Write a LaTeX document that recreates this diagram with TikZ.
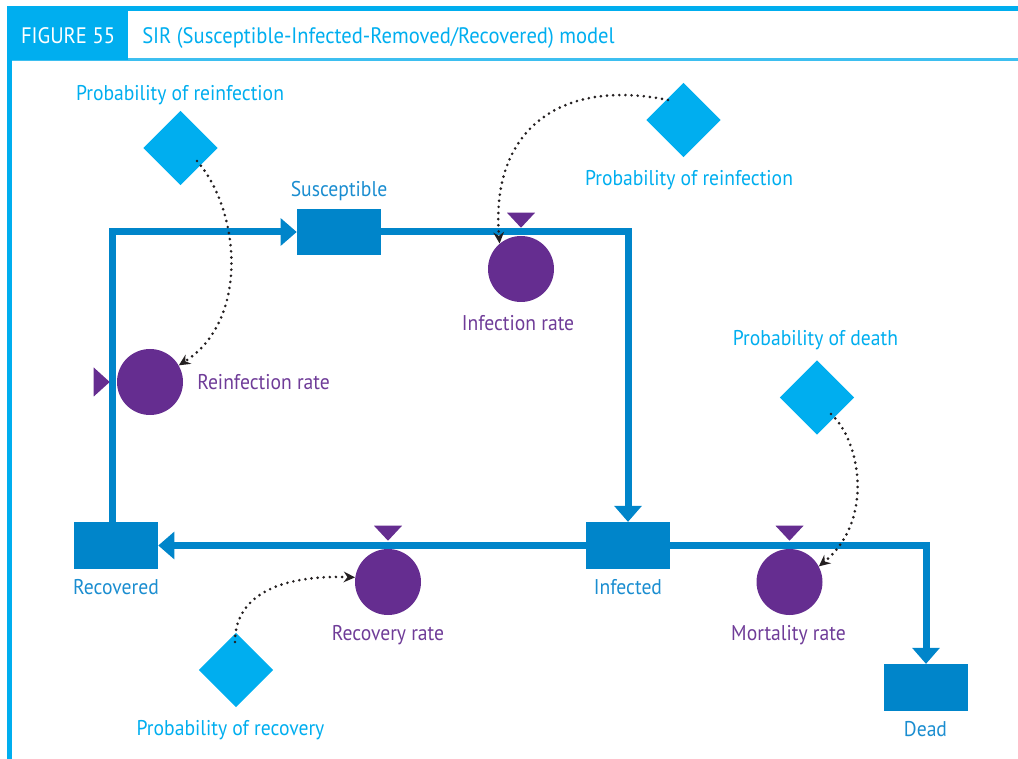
\documentclass[tikz,border=0pt]{standalone}
\usepackage{fontspec}
\setmainfont{PT Sans}[FakeStretch=0.92]
\usetikzlibrary{shapes.geometric,arrows.meta,calc}
\definecolor{framecyan}{HTML}{00AEEF}
\definecolor{ruleline}{HTML}{3DBFF0}
\definecolor{flowblue}{HTML}{0085CA}
\definecolor{stocktext}{HTML}{1A8DD0}
\definecolor{probcyan}{HTML}{00AEEF}
\definecolor{ratepurple}{HTML}{652D90}
\definecolor{ratetext}{HTML}{6F3C98}
\definecolor{linkdot}{HTML}{231F20}
\begin{document}
\begin{tikzpicture}[x=0.75pt,y=-0.75pt,
  stock/.style={rectangle,fill=flowblue,minimum width=63pt,minimum height=35pt,inner sep=0pt},
  rate/.style={circle,fill=ratepurple,minimum size=49.5pt,inner sep=0pt},
  param/.style={diamond,fill=probcyan,minimum width=56pt,minimum height=56pt,inner sep=0pt},
  flow/.style={draw=flowblue,line width=5.25pt,-{Triangle[length=12pt,width=20pt]}},
  link/.style={draw=linkdot,line width=2.2pt,dash pattern=on 0pt off 4.6pt,line cap=round,
    -{Stealth[length=8.5pt,width=8pt]}},
  lbl/.style={font=\fontsize{16}{19}\selectfont,inner sep=0pt,anchor=base},
  hdr/.style={font=\fontsize{16.8}{20}\selectfont,inner sep=0pt,anchor=base},
  stocklbl/.style={lbl,text=stocktext},
  problbl/.style={lbl,text=probcyan},
  ratelbl/.style={lbl,text=ratetext},
  valve/.style={fill=ratepurple}
]
\useasboundingbox (0,0) rectangle (1018,759);

% frame and header band
\fill[framecyan] (7,6) rectangle (1018,11);
\fill[ruleline] (7,58) rectangle (1018,61);
\fill[framecyan] (7,6) rectangle (128,60);
\fill[framecyan] (7,6) rectangle (12,759);
\node[hdr,text=white] (fig) at (68,44) {FIGURE 55};
\node[hdr,text=probcyan,anchor=base west] (title) at (142,44)
  {SIR (Susceptible-Infected-Removed/Recovered) model};

% stocks
\node[stock] (sus) at (339,232) {};
\node[stock] (inf) at (628,545.5) {};
\node[stock] (rec) at (116,545.5) {};
\node[stock] (dead) at (926,687.5) {};

% flows
\draw[flow] ([xshift=-3pt]rec.north) |- (sus.west);
\draw[flow] (sus.east) -| (inf.north);
\draw[flow] (inf.west) -- (rec.east);
\draw[flow] (inf.east) -| (dead.north);

% rates
\node[rate] (ir) at (521,269) {};
\node[rate] (rr) at (150,382) {};
\node[rate] (rcr) at (388,582) {};
\node[rate] (mr) at (789.5,582) {};
\fill[valve] ($(ir.north)+(0,-8)$) -- ++(-14,-15) -- ++(28,0) -- cycle;
\fill[valve] ($(rcr.north)+(0,-8)$) -- ++(-14,-15) -- ++(28,0) -- cycle;
\fill[valve] ($(mr.north)+(0,-8)$) -- ++(-14,-15) -- ++(28,0) -- cycle;
\fill[valve] ($(rr.west)+(-7,0)$) -- ++(-16,-14.5) -- ++(0,29) -- cycle;

% parameters
\node[param] (p1) at (180.5,148) {};
\node[param] (p2) at (683.5,120) {};
\node[param] (p3) at (817,397.5) {};
\node[param] (p4) at (236,670) {};

% information links
\draw[link] ($(p1.center)+(16.5,13)$) .. controls (240,210) and (250,320) .. (rr.30);
\draw[link] ($(p2.center)+(-15.5,-20)$) .. controls (560,78) and (490,130) .. (ir.130);
\draw[link] ($(p3.center)+(14,16.5)$) .. controls (860,440) and (875,520) .. (mr.28);
\draw[link] ($(p4.center)+(-1,-28)$) .. controls (235,590) and (290,575) .. (rcr.172);

% labels
\node[problbl] (lp1) at (180,100.5) {Probability of reinfection};
\node[stocklbl] (lsus) at (339,196.5) {Susceptible};
\node[problbl] (lp2) at (689,185.5) {Probability of reinfection};
\node[ratelbl] (lir) at (518,330.5) {Infection rate};
\node[problbl] (lp3) at (815.5,345.5) {Probability of death};
\node[ratelbl,anchor=base west] (lrr) at (197,389.5) {Reinfection rate};
\node[stocklbl] (lrec) at (116,594.5) {Recovered};
\node[stocklbl] (linf) at (628,594.5) {Infected};
\node[ratelbl] (lrcr) at (388,640.5) {Recovery rate};
\node[ratelbl] (lmr) at (788.5,640.5) {Mortality rate};
\node[problbl] (lp4) at (230.5,735.5) {Probability of recovery};
\node[stocklbl] (ldead) at (925.5,736.5) {Dead};
\end{tikzpicture}
\end{document}
